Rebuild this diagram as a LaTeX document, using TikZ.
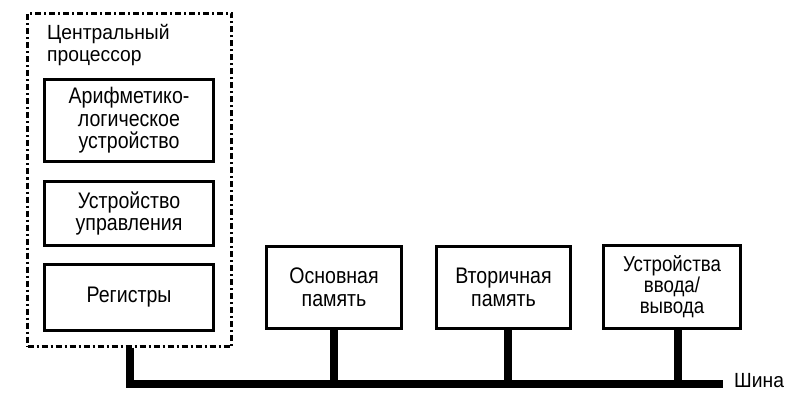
\documentclass[tikz,border=0pt]{standalone}
\usepackage{fontspec}
\setmainfont{Liberation Sans}
\newfontfamily\boxfont{Liberation Sans}[FakeStretch=0.87]
\newfontfamily\lblfont{Liberation Sans}[FakeStretch=0.94]
\begin{document}
\begin{tikzpicture}[x=1pt,y=-1pt,
  box/.style={draw=black,line width=3.5pt,fill=white,align=center,inner sep=0pt,
    font=\boxfont\fontsize{22.5}{22.5}\selectfont},
  cpubox/.style={draw=black,line width=2.2pt,dash pattern=on 6pt off 3pt on 2pt off 3pt,inner sep=0pt},
  bus/.style={line width=8pt,line cap=butt,line join=miter},
  lbl/.style={font=\lblfont\fontsize{20.5}{22.5}\selectfont,inner sep=0pt}]
\useasboundingbox (0,0) rectangle (799,406);
% CPU outline
\node[cpubox,minimum width=204pt,minimum height=333pt] (cpu) at (129.5,180) {};
\node[lbl,anchor=north west,align=left] (cpulbl) at (47,24) {Центральный\\процессор};
% CPU components
\node[box,minimum width=169pt,minimum height=82pt] (alu) at (129,120.5) {Арифметико-\\логическое\\устройство};
\node[box,minimum width=169pt,minimum height=64pt] (cu) at (129,213.5) {Устройство\\управления};
\node[box,minimum width=169pt,minimum height=66pt] (reg) at (129,297.5) {Регистры};
% Other devices
\node[box,minimum width=135pt,minimum height=82pt] (mem) at (334,287.5) {Основная\\память};
\node[box,minimum width=134pt,minimum height=82pt] (sec) at (503.5,287.5) {Вторичная\\память};
\node[box,minimum width=137pt,minimum height=83pt,
  font=\boxfont\fontsize{21.5}{21}\selectfont] (io) at (672,287) {Устройства\\ввода/\\вывода};
% Bus
\coordinate (busR) at (723,384);
\draw[bus] (cpu.south) |- (busR);
\draw[bus] (mem.south) -- (mem.south |- busR);
\draw[bus] ([xshift=4pt]sec.south) -- ([xshift=4pt]sec.south |- busR);
\draw[bus] ([xshift=6pt]io.south) -- ([xshift=6pt]io.south |- busR);
\node[lbl,anchor=west] (buslbl) at (734,381) {Шина};
\end{tikzpicture}
\end{document}
